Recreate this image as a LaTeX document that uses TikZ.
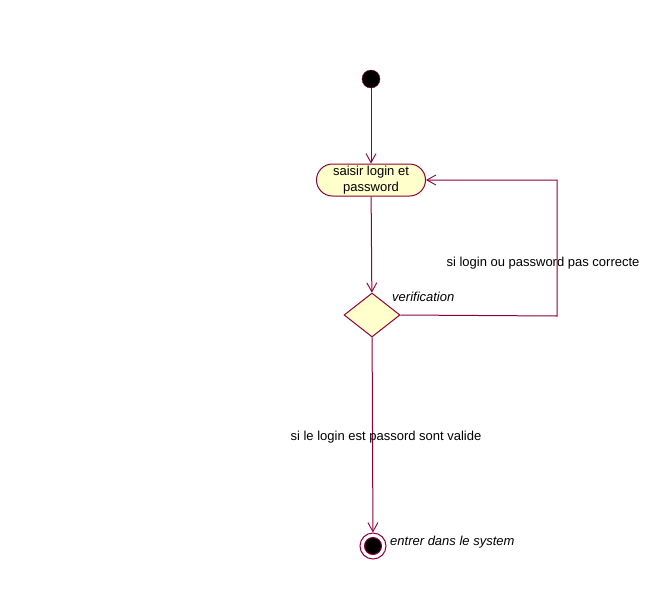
\documentclass[tikz,border=0pt]{standalone}
\usepackage{fontspec}
\setmainfont{Liberation Sans}
\usetikzlibrary{arrows.meta,shapes.geometric,shapes.misc}
\definecolor{umlred}{RGB}{140,0,60}
\definecolor{umlfill}{RGB}{255,255,204}
\tikzset{
  flow/.style={draw=umlred, line width=1pt, -{Straight Barb[length=9pt,width=10pt,line width=0.9pt]}},
  startnode/.style={circle, draw=umlred, fill=black, minimum size=18pt, inner sep=0pt},
  endnode/.style={circle, draw=umlred, line width=1pt, minimum size=26pt, inner sep=0pt,
    path picture={\fill[black, draw=umlred] (path picture bounding box.center) circle (8.5pt);}},
  action/.style={rounded rectangle, draw=umlred, fill=umlfill, line width=1pt, minimum width=111pt, minimum height=32pt, inner sep=1pt, align=center, font=\fontsize{13}{16}\selectfont},
  decision/.style={diamond, draw=umlred, fill=umlfill, line width=1pt, minimum width=56pt, minimum height=44pt, inner sep=0pt},
  lbl/.style={font=\fontsize{13}{16}\selectfont, inner sep=0pt},
  ilbl/.style={lbl, font=\fontsize{13}{16}\selectfont\itshape, anchor=west}
}
\begin{document}
\begin{tikzpicture}[x=1pt,y=-1pt]
        \useasboundingbox (0,0) rectangle (649,595);
        \node[startnode] (start) at (371,79) {};
        \node[action] (saisir) at (371,180) {saisir login et\\password};
        \node[decision] (verif) at (372,315) {};
        \node[endnode] (fin) at (373,546) {};
        \coordinate (retour) at (557,316);
        % transitions
        \draw[flow] (start) -- (saisir);
        \draw[flow] (saisir) -- (verif);
        \draw[flow] (verif.east) -- (retour) |- (saisir.east);
        \draw[flow] (verif) -- (fin);
        % labels
        \node[ilbl] (verifname) at (392,297) {verification};
        \node[lbl] (incorrect) at (543,263) {si login ou password pas correcte};
        \node[lbl] (valide) at (386,437) {si le login est passord sont valide};
        \node[ilbl] (entrer) at (390,542) {entrer dans le system};
\end{tikzpicture}
\end{document}
